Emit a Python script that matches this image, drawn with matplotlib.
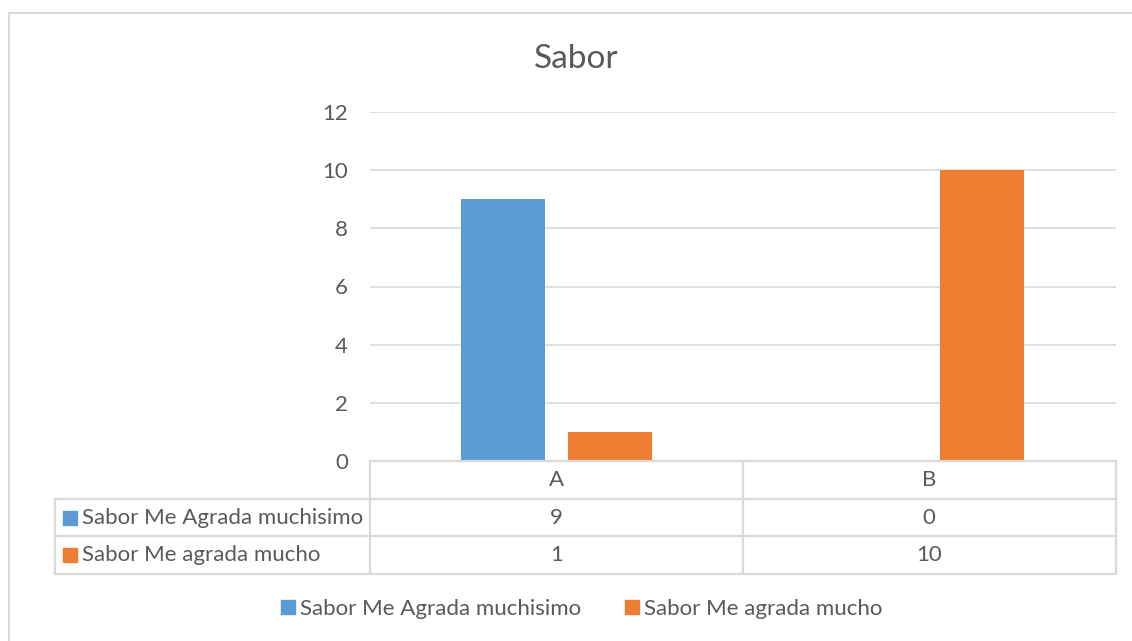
import matplotlib
matplotlib.use("Agg")
import numpy as np
import matplotlib.pyplot as plt
from matplotlib.lines import Line2D
from matplotlib.patches import Rectangle

# Data
categories = ['A', 'B']
series_names = ['Sabor Me Agrada muchisimo', 'Sabor Me agrada mucho']
muchisimo = [9, 0]
mucho = [1, 10]
yticks = [0, 2, 4, 6, 8, 10, 12]
title = 'Sabor'

colors = ['#5b9bd5', '#ed7d31']
text_col = '#595959'
line_col = '#d9d9d9'
fs = 16

plt.rcParams['font.family'] = ['Lato', 'DejaVu Sans']

W, H = 1132, 641
fig = plt.figure(figsize=(W / 100, H / 100), dpi=100)


def fx(px):
    return px / W


def fy(py):
    return 1 - py / H


# outer chart border
fig.patches.append(Rectangle((fx(9), fy(700)), fx(1200), fy(13) - fy(700),
                             transform=fig.transFigure, fill=False,
                             edgecolor=line_col, lw=1.5))

# main plot area
ax_l, ax_r, ax_t, ax_b = 370, 1115.7, 112, 461
ax = fig.add_axes([fx(ax_l), fy(ax_b), fx(ax_r - ax_l), fy(ax_t) - fy(ax_b)])
x = np.arange(len(categories)) + 0.5
width = 0.2255
off = 0.1425
ax.bar(x - off, muchisimo, width, color=colors[0], zorder=3)
ax.bar(x + off, mucho, width, color=colors[1], zorder=3)
ax.set_xlim(0, len(categories))
ax.set_ylim(0, 12)
ax.set_yticks(yticks)
ax.set_xticks([])
ax.grid(axis='y', color=line_col, lw=1.2, zorder=0)
ax.tick_params(axis='y', length=0, pad=16, labelsize=fs, labelcolor=text_col)
for s in ax.spines.values():
    s.set_visible(False)

fig.text(fx(576), fy(59), title, ha='center', va='center', fontsize=24,
         color=text_col)

# data table under the plot
tab_l, tab_r, tab_t, tab_b = 55, 1115.7, 461, 574
lab_w = (ax_l - tab_l) / ((ax_r - ax_l) / len(categories))
tab = fig.add_axes([fx(tab_l), fy(tab_b), fx(tab_r - tab_l), fy(tab_t) - fy(tab_b)])
tab.set_xlim(-lab_w, len(categories))
tab.set_ylim(0, 3)
tab.axis('off')
ncat = len(categories)
lk = dict(color=line_col, lw=1.6, clip_on=False, solid_capstyle='projecting')
tab.plot([0, ncat], [3, 3], **lk)
for yy in [0, 1, 2]:
    tab.plot([-lab_w, ncat], [yy, yy], **lk)
tab.plot([-lab_w, -lab_w], [0, 2], **lk)
for xx in range(ncat + 1):
    tab.plot([xx, xx], [0, 3], **lk)

for i, c in enumerate(categories):
    tab.text(i + 0.5, 2.5, c, ha='center', va='center', fontsize=fs,
             color=text_col)
rows = [muchisimo, mucho]
for r, (name, vals, col) in enumerate(zip(series_names, rows, colors)):
    yy = 1.5 - r
    tab.plot([-lab_w + 0.04], [yy], 's', ms=9.5, color=col, clip_on=False)
    tab.text(-lab_w + 0.072, yy, name, ha='left', va='center', fontsize=fs,
             color=text_col)
    for i, v in enumerate(vals):
        tab.text(i + 0.5, yy, str(v), ha='center', va='center', fontsize=fs,
                 color=text_col)

handles = [Line2D([], [], marker='s', ls='', ms=9.5, color=c) for c in colors]
fig.legend(handles, series_names, loc='center', ncol=2, frameon=False,
           bbox_to_anchor=(fx(582), fy(609)), fontsize=fs, labelcolor=text_col,
           handlelength=0.6, handletextpad=0.25, columnspacing=2.0)

fig.savefig('out.png', dpi=100)
